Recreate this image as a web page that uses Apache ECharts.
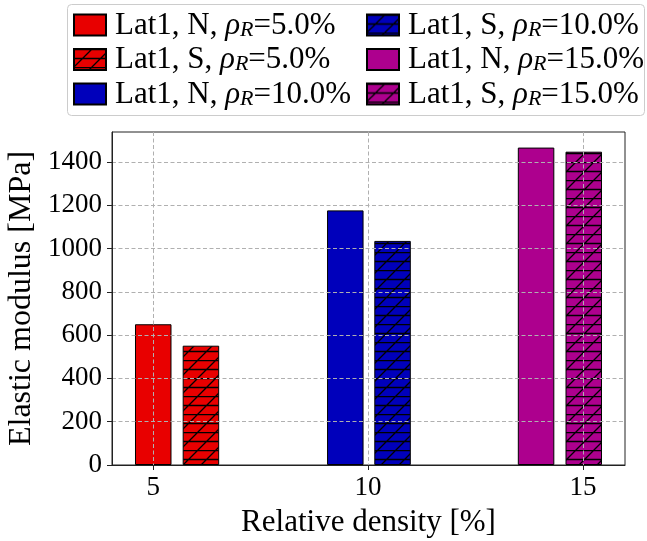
<!DOCTYPE html>
<html>
<head>
<meta charset="utf-8">
<script src="https://cdn.jsdelivr.net/npm/echarts@6/dist/echarts.min.js"></script>
<style>html,body{margin:0;padding:0;background:#fff;}#c{width:647px;height:541px;}</style>
</head>
<body>
<div id="c"></div>
<script>
// ---- data ----
const densities = [5, 10, 15];
const densityLabels = ['5.0%', '10.0%', '15.0%'];
const nValues = [650, 1176, 1466];
const sValues = [551, 1035, 1447];
const nPositions = [5.0, 9.47, 13.91];
const sPositions = [6.11, 10.57, 15.02];
const colors = ['#e80000', '#0000bb', '#ad008e'];
const xTicks = [5, 10, 15];
const yTicks = [0, 200, 400, 600, 800, 1000, 1200, 1400];
const xRange = [4.04, 15.98];
const yRange = [0, 1538];

function hatch(color) {
  const s = 18;
  const c = document.createElement('canvas');
  c.width = s; c.height = s;
  const g = c.getContext('2d');
  g.fillStyle = color; g.fillRect(0, 0, s, s);
  g.strokeStyle = '#000'; g.lineWidth = 1.3;
  g.beginPath();
  g.moveTo(0, 0.5); g.lineTo(s, 0.5);
  g.moveTo(0, s / 2 + 0.5); g.lineTo(s, s / 2 + 0.5);
  g.moveTo(-2, s + 2); g.lineTo(s + 2, -2);
  g.moveTo(-2, 2); g.lineTo(2, -2);
  g.moveTo(s - 2, s + 2); g.lineTo(s + 2, s - 2);
  g.stroke();
  return { image: c, repeat: 'repeat' };
}

const font = 'Liberation Serif, Times New Roman, serif';
const series = [];
const names = [];
densities.forEach((d, i) => {
  const nName = 'Lat1, N, ρR=' + densityLabels[i];
  const sName = 'Lat1, S, ρR=' + densityLabels[i];
  names.push(nName, sName);
  series.push({
    name: nName, type: 'bar', barWidth: 36.5, barGap: '-100%',
    itemStyle: { color: colors[i], borderColor: '#000', borderWidth: 1 },
    data: [[nPositions[i], nValues[i]]]
  });
  series.push({
    name: sName, type: 'bar', barWidth: 36.5, barGap: '-100%',
    itemStyle: { color: hatch(colors[i]), borderColor: '#000', borderWidth: 1 },
    data: [[sPositions[i], sValues[i]]]
  });
});

const rich = {
  sp: { width: 4, lineHeight: 32, verticalAlign: 'bottom' },
  t: { fontFamily: font, fontSize: 31, lineHeight: 32, color: '#000', verticalAlign: 'bottom' },
  g: { fontFamily: font, fontStyle: 'italic', fontSize: 31, lineHeight: 32, color: '#000', verticalAlign: 'bottom' },
  s: { fontFamily: font, fontStyle: 'italic', fontSize: 22, lineHeight: 17, color: '#000', verticalAlign: 'bottom' }
};
function fmt(name) {
  const m = name.match(/^(.*)ρR(.*)$/);
  return '{sp|}{t|' + m[1] + '}{g|ρ}{s|R}{t|' + m[2] + '}';
}
const legendBase = {
  orient: 'vertical', itemWidth: 32, itemHeight: 21, itemGap: 3.5, padding: 0,
  icon: 'rect', formatter: fmt, selectedMode: false,
  textStyle: { rich: rich, fontFamily: font, fontSize: 31 }
};

const chart = echarts.init(document.getElementById('c'), null, { renderer: 'canvas' });
chart.setOption({
  animation: false,
  backgroundColor: '#fff',
  graphic: [{
    type: 'rect', left: 67, top: 4, z: -1,
    shape: { width: 577, height: 111, r: 4 },
    style: { fill: '#fff', stroke: '#cccccc', lineWidth: 1 }
  }],
  legend: [
    Object.assign({}, legendBase, { left: 73, top: 10, data: names.slice(0, 3) }),
    Object.assign({}, legendBase, { left: 366, top: 10, data: names.slice(3, 6) })
  ],
  grid: { left: 112, right: 22, top: 132, bottom: 76, show: true, outerBoundsMode: 'none', containLabel: false, borderColor: '#222', borderWidth: 1, backgroundColor: 'transparent' },
  xAxis: {
    type: 'value', min: xRange[0], max: xRange[1], z: 5,
    name: 'Relative density [%]', nameLocation: 'middle', nameGap: 42,
    nameTextStyle: { fontFamily: font, fontSize: 31, color: '#000' },
    axisLine: { show: true, lineStyle: { color: '#222', width: 1 } },
    axisTick: { show: true, length: 5, customValues: xTicks, lineStyle: { color: '#222' } },
    axisLabel: { customValues: xTicks, margin: 9, fontFamily: font, fontSize: 27, color: '#000', formatter: v => String(v) },
    splitLine: { show: true, lineStyle: { color: '#b0b0b0', type: [4, 2.5], width: 1 } }
  },
  yAxis: {
    type: 'value', min: yRange[0], max: yRange[1], z: 5,
    name: 'Elastic modulus [MPa]', nameLocation: 'middle', nameGap: 65, nameRotate: 90,
    nameTextStyle: { fontFamily: font, fontSize: 32, color: '#000' },
    axisLine: { show: true, lineStyle: { color: '#222', width: 1 } },
    axisTick: { show: true, length: 5, customValues: yTicks, lineStyle: { color: '#222' } },
    axisLabel: { customValues: yTicks, margin: 10, fontFamily: font, fontSize: 27, color: '#000', formatter: v => String(v) },
    splitLine: { show: true, lineStyle: { color: '#b0b0b0', type: [4, 2.5], width: 1 } }
  },
  series: series
});
</script>
</body>
</html>
